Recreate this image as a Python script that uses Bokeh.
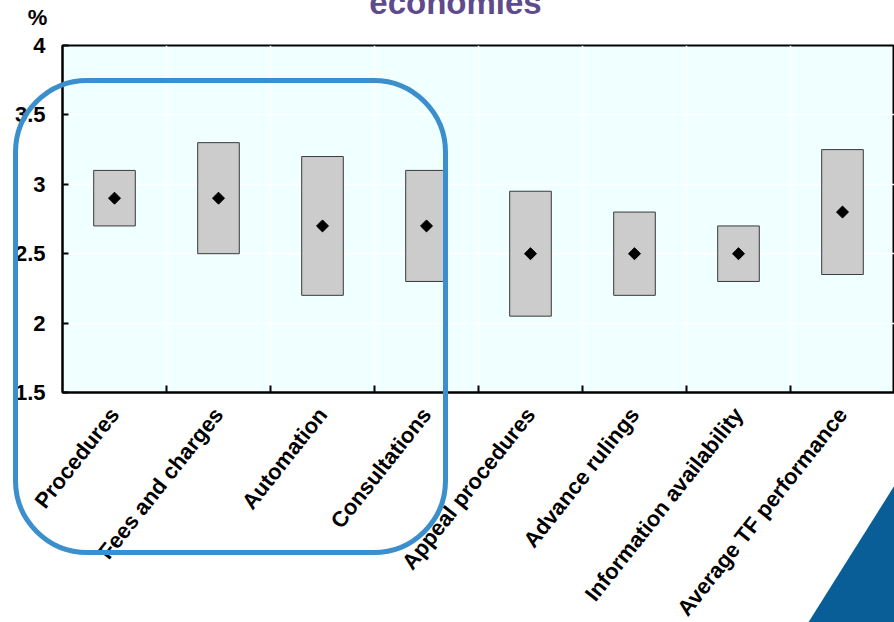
import numpy as np
from bokeh.plotting import figure
from bokeh.models import (Range1d, FixedTicker, BoxAnnotation, PolyAnnotation,
                          Label, ColumnDataSource, CustomJSTickFormatter)
from bokeh.embed import file_html
from bokeh.resources import INLINE

categories = ["Procedures", "Fees and charges", "Automation", "Consultations",
              "Appeal procedures", "Advance rulings", "Information availability",
              "Average TF performance"]
low = [2.7, 2.5, 2.2, 2.3, 2.05, 2.2, 2.3, 2.35]
high = [3.1, 3.3, 3.2, 3.1, 2.95, 2.8, 2.7, 3.25]
avg = [2.9, 2.9, 2.7, 2.7, 2.5, 2.5, 2.5, 2.8]
y_ticks = [1.5, 2, 2.5, 3, 3.5, 4]
y_tick_labels = ["1.5", "2", "2.5", "3", "3.5", "4"]
title_text = "economies"
unit_text = "%"

FONT = "Liberation Sans"

xc = np.arange(len(categories)) + 0.5
src = ColumnDataSource(dict(x=xc, low=low, high=high, avg=avg, cat=categories))

p = figure(frame_width=832, frame_height=347,
           min_border_left=62, min_border_top=45, min_border_bottom=230,
           min_border_right=0,
           x_range=Range1d(0, len(categories)), y_range=Range1d(1.5, 4),
           output_backend="svg", toolbar_location=None)

p.background_fill_color = "#F0FFFF"
p.border_fill_color = "white"
p.outline_line_color = "black"
p.outline_line_width = 2

# grid
p.xgrid.ticker = FixedTicker(ticks=list(np.arange(1, len(categories))))
p.ygrid.ticker = FixedTicker(ticks=y_ticks)
p.grid.grid_line_color = "white"
p.grid.grid_line_width = 1.5

# x axis
xa = p.xaxis[0]
xa.ticker = FixedTicker(ticks=list(xc), minor_ticks=list(np.arange(1, len(categories) + 1)))
xa.major_label_overrides = {float(v): c for v, c in zip(xc, categories)}
xa.major_tick_in = 0
xa.major_tick_out = 0
xa.minor_tick_in = 7
xa.minor_tick_out = 0
xa.minor_tick_line_color = "black"
xa.minor_tick_line_width = 2
xa.axis_line_color = "black"
xa.axis_line_width = 2
xa.major_label_orientation = 0.9
xa.major_label_text_font = FONT
xa.major_label_text_font_style = "bold"
xa.major_label_text_font_size = "22px"
xa.major_label_text_color = "black"
xa.major_label_standoff = 18

# data
p.vbar(x="x", width=0.4, bottom="low", top="high", source=src,
       fill_color="#CCCCCC", line_color="#3a3a3a", line_width=1)
p.scatter(x="x", y="avg", source=src, marker="square", angle=np.pi / 4,
          size=8.5, color="black")

# texts (canvas units, top-down)
unit_lbl = Label(x=37, y=17, x_units="canvas", y_units="canvas",
                 text=unit_text, text_align="center",
                 text_baseline="middle",
                 text_font=FONT, text_font_style="bold",
                 text_font_size="22px", text_color="black")
title_lbl = Label(x=455, y=2, x_units="canvas", y_units="canvas",
                  text=title_text, text_align="center",
                  text_baseline="middle",
                  text_font=FONT, text_font_style="bold",
                  text_font_size="33px", text_color="#5E4A8C")

# highlight box
box = BoxAnnotation(left=15, right=445, top=80, bottom=552,
                    left_units="canvas", right_units="canvas",
                    top_units="canvas", bottom_units="canvas",
                    fill_alpha=0, line_color="#3A8FCC", line_alpha=1,
                    line_width=5, border_radius=72, level="overlay")
# corner triangle
tri = PolyAnnotation(xs=[894, 804, 894], ys=[485, 628, 628],
                     xs_units="canvas", ys_units="canvas",
                     fill_color="#0A5E98", fill_alpha=1,
                     line_color=None, level="overlay")
free_anns = [unit_lbl, title_lbl, box, tri]
for a in free_anns:
    p.add_layout(a)

# y axis (formatter also lets the free annotations draw outside the frame)
ya = p.yaxis[0]
ya.ticker = FixedTicker(ticks=y_ticks)
ya.formatter = CustomJSTickFormatter(
    args=dict(anns=free_anns, vals=y_ticks, labs=y_tick_labels),
    code="""
try {
  if (!window.__unclipped && window.Bokeh && Bokeh.index) {
    const idx = Bokeh.index;
    let done = 0;
    for (const m of anns) {
      let v = null;
      if (typeof idx.find_one === "function") v = idx.find_one(m);
      if (v == null && typeof idx.all_views === "function") {
        for (const w of idx.all_views()) { if (w.model === m) { v = w; break; } }
      }
      if (v != null) {
        Object.defineProperty(v, "needs_clip", {get: () => false, configurable: true});
        done++;
      }
    }
    if (done === anns.length) window.__unclipped = true;
  }
} catch (e) {}
for (let i = 0; i < vals.length; i++) {
  if (Math.abs(vals[i] - tick) < 1e-9) return labs[i];
}
return String(tick);
""")
ya.major_tick_in = 6
ya.major_tick_out = 0
ya.minor_tick_line_color = None
ya.major_tick_line_color = "black"
ya.major_tick_line_width = 2
ya.axis_line_color = "black"
ya.axis_line_width = 2
ya.major_label_text_font = FONT
ya.major_label_text_font_style = "bold"
ya.major_label_text_font_size = "22px"
ya.major_label_text_color = "black"
ya.major_label_standoff = 17

open("out.html", "w").write(file_html(p, INLINE))
